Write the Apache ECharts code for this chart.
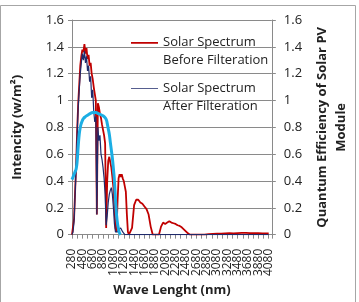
<!DOCTYPE html>
<html>
<head>
<meta charset="utf-8">
<script src="https://cdn.jsdelivr.net/npm/echarts@6/dist/echarts.min.js"></script>
<style>
  html, body { margin: 0; padding: 0; background: #fff; }
  #chart { width: 359px; height: 302px; }
</style>
</head>
<body>
<div id="chart"></div>
<script>
// wavelength (nm) of the spectrum samples
const specWave = [
  280, 300, 320, 340, 360, 380, 400, 420, 440, 460, 480, 500, 520, 540, 560, 580, 600, 620, 640, 660,
  680, 700, 720, 740, 760, 780, 800, 820, 840, 860, 880, 900, 920, 940, 960, 980, 1000, 1020, 1040, 1060,
  1080, 1100, 1120, 1140, 1160, 1180, 1200, 1220, 1240, 1260, 1280, 1300, 1320, 1340, 1360, 1380, 1400,
  1440, 1480, 1520, 1560, 1600, 1640, 1680, 1720, 1760, 1800, 1840, 1880, 1920, 1960, 2000,
  2040, 2080, 2120, 2160, 2200, 2240, 2280, 2320, 2360, 2400, 2440, 2480, 2520, 2560, 2600,
  2680, 2760, 2840, 2920, 3000, 3080, 3160, 3240, 3320, 3400, 3480, 3560, 3640, 3720, 3800, 3880, 3960, 4040, 4080
];

// solar spectrum before filteration (w/m2)
const beforeFilter = [
  0, 0.01, 0.12, 0.32, 0.52, 0.78, 0.98, 1.12, 1.26, 1.33, 1.38, 1.36, 1.42, 1.35, 1.39, 1.31, 1.34, 1.26, 1.28, 1.2,
  1.16, 1.1, 1.05, 1.0, 0.15, 0.98, 0.95, 0.9, 0.87, 0.82, 0.78, 0.74, 0.68, 0.05, 0.4, 0.55, 0.58, 0.54, 0.5, 0.43,
  0.35, 0.2, 0.05, 0.02, 0.25, 0.42, 0.45, 0.43, 0.45, 0.42, 0.4, 0.36, 0.32, 0.15, 0.02, 0, 0,
  0.05, 0.22, 0.26, 0.26, 0.24, 0.23, 0.21, 0.19, 0.15, 0.06, 0, 0, 0, 0, 0.06,
  0.09, 0.08, 0.09, 0.1, 0.09, 0.085, 0.08, 0.07, 0.065, 0.055, 0.04, 0.025, 0.01, 0, 0,
  0, 0, 0, 0.004, 0.006, 0.008, 0.007, 0.01, 0.012, 0.01, 0.012, 0.014, 0.013, 0.012, 0.012, 0.011, 0.01, 0.01, 0.01
];

// solar spectrum after filteration (w/m2)
const afterFilter = [
  0, 0.02, 0.1, 0.3, 0.5, 0.75, 0.95, 1.08, 1.2, 1.28, 1.35, 1.3, 1.37, 1.28, 1.33, 1.22, 1.26, 1.14, 1.18, 1.02,
  1.08, 0.92, 0.84, 0.88, 0.15, 0.8, 0.7, 0.74, 0.6, 0.56, 0.5, 0.42, 0.3, 0.07, 0.14, 0.24, 0.3, 0.33, 0.35, 0.3,
  0.2, 0.08, 0.02, 0.01, 0.02, 0.04, 0.05, 0.05, 0.04, 0.02, 0.01, 0, 0, 0, 0, 0, 0,
  0, 0, 0, 0, 0, 0, 0, 0, 0, 0, 0, 0, 0, 0, 0,
  0, 0, 0, 0, 0, 0, 0, 0, 0, 0, 0, 0, 0, 0, 0,
  0, 0, 0, 0, 0, 0, 0, 0, 0, 0, 0, 0, 0, 0, 0, 0, 0, 0, 0
];

// quantum efficiency of the PV module
const qeWave = [280, 300, 320, 340, 360, 380, 400, 420, 440, 460, 480, 500, 540, 580, 620, 680, 740, 800, 860, 900,
  940, 960, 980, 1000, 1020, 1040, 1060, 1080, 1100, 1120, 1140, 1160, 1180, 1200, 1220];
const qeValues = [0.41, 0.43, 0.45, 0.47, 0.49, 0.55, 0.66, 0.75, 0.8, 0.83, 0.85, 0.865, 0.88, 0.89, 0.9, 0.91, 0.91, 0.9, 0.89, 0.88,
  0.86, 0.83, 0.79, 0.75, 0.69, 0.63, 0.57, 0.49, 0.4, 0.26, 0.15, 0.08, 0.04, 0.01, 0];

const seriesNames = ['Solar Spectrum\nBefore Filteration', 'Solar Spectrum\nAfter Filteration'];

const chart = echarts.init(document.getElementById('chart'));
const font = 'Open Sans';
const gray = '#8a8a8a';

const yAxisBase = {
  type: 'value',
  min: 0,
  max: 1.6,
  interval: 0.2,
  axisLine: { show: true, lineStyle: { color: gray } },
  axisTick: { show: true, length: 4, lineStyle: { color: gray } },
  axisLabel: { color: '#222', fontFamily: font, fontSize: 13 },
  nameLocation: 'middle',
  nameRotate: 90,
  nameTextStyle: { fontFamily: font, fontSize: 13, fontWeight: 'bold', color: '#222', lineHeight: 19 }
};

chart.setOption({
  animation: false,
  textStyle: { fontFamily: font },
  graphic: [{
    type: 'rect',
    shape: { x: 0.5, y: 5.5, width: 355, height: 300 },
    style: { fill: 'none', stroke: '#a6a6a6', lineWidth: 1 },
    silent: true
  }],
  grid: { left: 58, right: 69, top: 20, bottom: 52 },
  legend: {
    orient: 'vertical',
    left: 126,
    top: 28,
    itemWidth: 27,
    itemHeight: 20,
    itemGap: 10,
    textStyle: { fontFamily: font, fontSize: 13, color: '#222', lineHeight: 18 },
    data: [
      { name: seriesNames[0], icon: 'path://M0,0H30V2H0Z M0,20H0.1V20.1H0Z' },
      { name: seriesNames[1], icon: 'path://M0,0H30V1H0Z M0,20H0.1V20.1H0Z' }
    ]
  },
  xAxis: {
    type: 'value',
    min: 280,
    max: 4140,
    interval: 100,
    name: 'Wave Lenght (nm)',
    nameLocation: 'middle',
    nameGap: 44,
    nameTextStyle: { fontFamily: font, fontSize: 13, fontWeight: 'bold', color: '#222' },
    splitLine: { show: false },
    axisLine: { show: true, lineStyle: { color: gray } },
    axisTick: { show: true, length: 4, lineStyle: { color: gray } },
    axisLabel: {
      rotate: 90,
      margin: 14,
      fontFamily: font,
      fontSize: 12,
      color: '#222',
      formatter: v => ((v - 280) % 200 === 0 && v <= 4080) ? String(v) : ''
    }
  },
  yAxis: [
    Object.assign({}, yAxisBase, {
      position: 'left',
      name: 'Intencity (w/m²)',
      nameGap: 45,
      splitLine: { show: true, lineStyle: { color: gray } }
    }),
    Object.assign({}, yAxisBase, {
      position: 'right',
      name: 'Quantum Efficiency of Solar PV\nModule',
      nameGap: 32,
      splitLine: { show: false },
      axisLabel: { color: '#222', fontFamily: font, fontSize: 13, margin: 12 }
    })
  ],
  series: [
    {
      name: seriesNames[0],
      type: 'line',
      showSymbol: false,
      data: specWave.map((w, i) => [w, beforeFilter[i]]),
      itemStyle: { color: '#C00000' },
      lineStyle: { color: '#C00000', width: 1.8 }
    },
    {
      name: seriesNames[1],
      type: 'line',
      showSymbol: false,
      data: specWave.map((w, i) => [w, afterFilter[i]]),
      itemStyle: { color: '#1F2A6B' },
      lineStyle: { color: '#1F2A6B', width: 1.2 }
    },
    {
      name: 'Quantum Efficiency',
      type: 'line',
      yAxisIndex: 1,
      smooth: true,
      showSymbol: false,
      data: qeWave.map((w, i) => [w, qeValues[i]]),
      itemStyle: { color: '#1CAEE4' },
      lineStyle: { color: '#1CAEE4', width: 3 }
    }
  ]
});
</script>
</body>
</html>
